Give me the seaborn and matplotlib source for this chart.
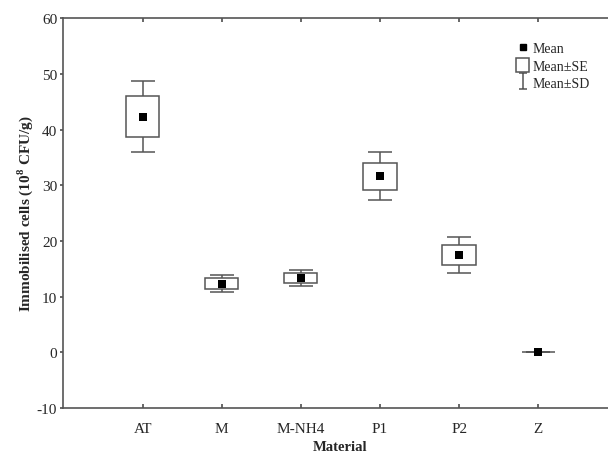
import matplotlib
matplotlib.use("Agg")
import matplotlib.pyplot as plt
import seaborn as sns
import numpy as np
import pandas as pd
from matplotlib.patches import Patch
from matplotlib.lines import Line2D
from matplotlib.path import Path

# === datos ===
materiales = ["AT", "M", "M-NH4", "P1", "P2", "Z"]
medias = [42.3, 12.3, 13.3, 31.6, 17.5, 0.0]
err_se = [3.7, 1.0, 0.9, 2.45, 1.8, 0.0]
err_sd = [6.4, 1.5, 1.45, 4.3, 3.2, 0.0]

df = pd.DataFrame({"Material": materiales, "media": medias, "se": err_se, "sd": err_sd})
pos = np.arange(len(materiales))

sns.set_theme(style="white")
plt.rcParams["font.family"] = ["Liberation Serif", "DejaVu Serif"]
plt.rcParams["mathtext.fontset"] = "custom"
plt.rcParams["mathtext.rm"] = "Liberation Serif"
plt.rcParams["mathtext.bf"] = "Liberation Serif:bold"
plt.rcParams["axes.unicode_minus"] = False

gris = "#555555"
fig = plt.figure(figsize=(6.08, 4.56), dpi=100)
ax = fig.add_axes([0.1044, 0.103, 0.911, 0.855])

# Mean±SD (bigotes)
ax.errorbar(pos, df["media"], yerr=df["sd"], fmt="none", ecolor=gris,
            elinewidth=1.1, capsize=8.5, capthick=1.1, zorder=1)
# Mean±SE (cajas)
ax.bar(pos, 2 * df["se"], bottom=df["media"] - df["se"], width=0.42,
       color="white", edgecolor=gris, linewidth=1.1, zorder=2)
# Mean
sns.scatterplot(x=pos, y=df["media"], marker="s", s=28, color="black",
                edgecolor="black", linewidth=0, zorder=3, ax=ax)

ax.set_xlim(-1, 6)
ax.set_ylim(-10, 60)
ax.set_yticks(range(-10, 61, 10))
ax.set_xticks(pos)
ax.set_xticklabels(materiales)
ax.tick_params(axis="x", direction="in", top=True, bottom=True, length=3,
               color=gris, labelsize=11, pad=10)
ax.tick_params(axis="y", direction="out", left=True, length=2.5,
               color=gris, labelsize=11, pad=2)
for lado, sp in ax.spines.items():
    sp.set_color(gris)
    sp.set_linewidth(1.2)

ax.set_xlabel("Material", fontweight="bold", fontsize=10.5, labelpad=4)
ax.set_ylabel(r"Immobilised cells (10$^{\mathbf{8}}$ CFU/g)", fontweight="bold",
              fontsize=11, labelpad=1)

# leyenda (icono en forma de I para la SD)
forma_i = Path([(-0.5, 1), (0.5, 1), (0, 1), (0, -1), (-0.5, -1), (0.5, -1)],
               [Path.MOVETO, Path.LINETO, Path.MOVETO, Path.LINETO, Path.MOVETO, Path.LINETO])
h_mean = Line2D([], [], marker="s", color="black", linestyle="none", markersize=5)
h_se = Patch(facecolor="white", edgecolor=gris, linewidth=1.1)
h_sd = Line2D([], [], marker=forma_i, linestyle="none", markersize=11,
              markeredgecolor=gris, markerfacecolor="none", markeredgewidth=1.1)
ax.legend([h_mean, h_se, h_sd], ["Mean", "Mean±SE", "Mean±SD"],
          loc="upper left", bbox_to_anchor=(0.838, 0.923), bbox_transform=fig.transFigure,
          frameon=False, fontsize=10, handlelength=0.9, handleheight=1.1,
          handletextpad=0.25, labelspacing=0.2, borderpad=0)

fig.savefig("out.png", dpi=100)
